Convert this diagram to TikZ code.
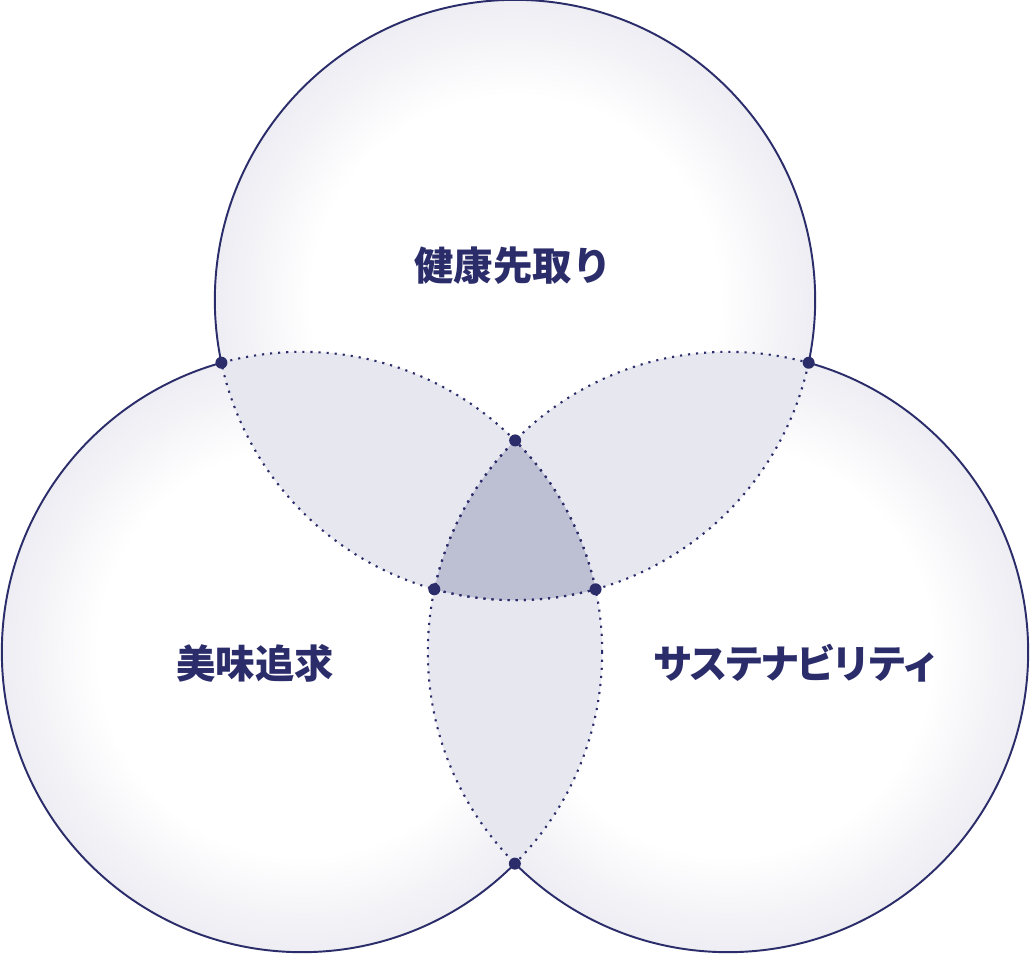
\documentclass[tikz,border=0pt]{standalone}
\usepackage{fontspec}
\newfontfamily\cjk{Noto Sans CJK JP}
\newfontfamily\cjknarrow{Noto Sans CJK JP}[LetterSpace=-9]
\usetikzlibrary{intersections}

\definecolor{navy}{HTML}{2B2C6A}
\definecolor{glowc}{HTML}{EDEDF3}
\definecolor{lensc}{HTML}{E6E7EF}
\definecolor{corec}{HTML}{BDBFD3}

\pgfdeclareradialshading{glow}{\pgfpoint{0bp}{0bp}}{color(0bp)=(white); color(17bp)=(white); color(25bp)=(glowc); color(50bp)=(glowc)}

\tikzset{
  rim/.style={draw=navy, line width=0.55pt},
  dotline/.style={draw=navy, line width=0.6pt, dash pattern=on 0.6pt off 1.7pt},
  lens/.style={fill=lensc},
  core/.style={fill=corec},
  joint/.style={circle, fill=navy, inner sep=0pt, minimum size=0.12cm},
  label/.style={text=navy, font=\cjk\bfseries\fontsize{11.2}{13}\selectfont}
}

\begin{document}
\begin{tikzpicture}[x=0.01cm, y=-0.01cm]

\useasboundingbox (0,0) rectangle (1030,954);

\coordinate (T) at (515,300);
\coordinate (L) at (302,652);
\coordinate (R) at (728,652);

\path[name path=cT] (T) circle[radius=3cm];
\path[name path=cL] (L) circle[radius=3cm];
\path[name path=cR] (R) circle[radius=3cm];

\shade[shading=glow] (T) circle[radius=3cm];
\shade[shading=glow] (L) circle[radius=3cm];
\shade[shading=glow] (R) circle[radius=3cm];

\begin{scope}
\clip (T) circle[radius=3cm];
\fill[lens] (L) circle[radius=3cm];
\fill[lens] (R) circle[radius=3cm];
\end{scope}
\begin{scope}
\clip (L) circle[radius=3cm];
\fill[lens] (R) circle[radius=3cm];
\end{scope}
\begin{scope}
\clip (T) circle[radius=3cm];
\clip (L) circle[radius=3cm];
\fill[core] (R) circle[radius=3cm];
\end{scope}

\begin{scope}
\clip (T) circle[radius=3cm];
\draw[dotline] (L) circle[radius=3cm];
\draw[dotline] (R) circle[radius=3cm];
\end{scope}
\begin{scope}
\clip (L) circle[radius=3cm];
\draw[dotline] (T) circle[radius=3cm];
\draw[dotline] (R) circle[radius=3cm];
\end{scope}
\begin{scope}
\clip (R) circle[radius=3cm];
\draw[dotline] (T) circle[radius=3cm];
\draw[dotline] (L) circle[radius=3cm];
\end{scope}

\begin{scope}[even odd rule]
\clip (-50,-50) rectangle (1080,1004) (L) circle[radius=3cm];
\clip (-50,-50) rectangle (1080,1004) (R) circle[radius=3cm];
\draw[rim] (T) circle[radius=3cm];
\end{scope}
\begin{scope}[even odd rule]
\clip (-50,-50) rectangle (1080,1004) (T) circle[radius=3cm];
\clip (-50,-50) rectangle (1080,1004) (R) circle[radius=3cm];
\draw[rim] (L) circle[radius=3cm];
\end{scope}
\begin{scope}[even odd rule]
\clip (-50,-50) rectangle (1080,1004) (T) circle[radius=3cm];
\clip (-50,-50) rectangle (1080,1004) (L) circle[radius=3cm];
\draw[rim] (R) circle[radius=3cm];
\end{scope}

\path[name intersections={of=cT and cL, by={tl1,tl2}}];
\path[name intersections={of=cT and cR, by={tr1,tr2}}];
\path[name intersections={of=cL and cR, by={lr1,lr2}}];
\foreach \p in {tl1,tl2,tr1,tr2,lr1,lr2}
  \node[joint] (dot-\p) at (\p) {};

\node[label] (health) at (513,266) {健康先取り};
\node[label] (taste) at (255,663) {美味追求};
\node[label, font=\cjknarrow\bfseries\fontsize{11.2}{13}\selectfont] (sustain) at (797,663) {サステナビリティ};

\end{tikzpicture}
\end{document}
